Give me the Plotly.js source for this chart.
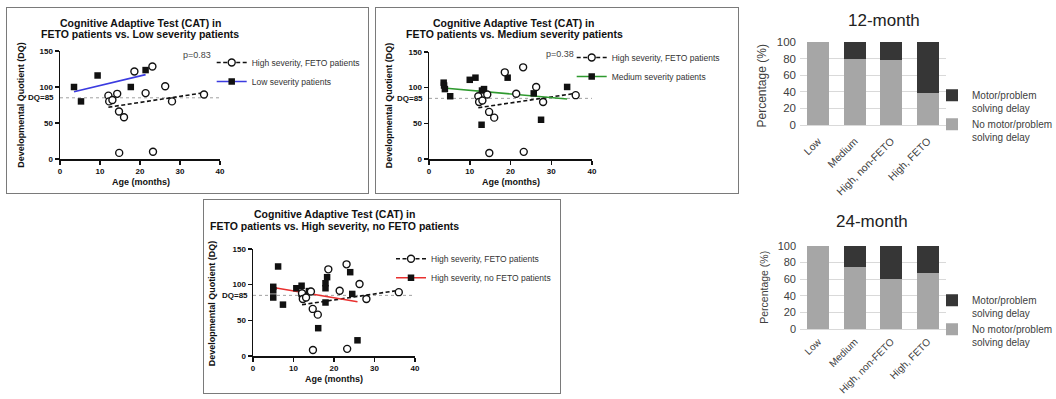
<!DOCTYPE html>
<html><head><meta charset="utf-8">
<script src="https://cdn.plot.ly/plotly-3.0.1.min.js"></script>
<style>
html,body{margin:0;padding:0;background:#fff;width:1056px;height:399px;overflow:hidden;}
body{position:relative;}
.chart{position:absolute;}
.frame{position:absolute;border:1px solid #7a7a7a;box-sizing:border-box;pointer-events:none;}
</style></head><body>
<div class="chart" id="p1"></div>
<div class="chart" id="p2"></div>
<div class="chart" id="p3"></div>
<div class="chart" id="b1"></div>
<div class="chart" id="b2"></div>
<script>
// ---------- data ----------
const fetoName = 'High severity, FETO patients';
const fetoAge = [12.1, 12.3, 13.1, 14.3, 14.75, 16.0, 14.8, 18.6, 21.4, 23.1, 23.25, 26.3, 28.0, 36.0];
const fetoDQ  = [88, 80, 82, 90.5, 66, 58, 8.5, 121.5, 91.5, 128.5, 10, 101, 80, 89.5];

const lowName = 'Low severity patients';
const lowAge = [3.5, 5.25, 9.4, 17.7, 21.4];
const lowDQ  = [100, 80, 116, 100, 123.5];

const mediumName = 'Medium severity patients';
const mediumAge = [3.6, 3.7, 3.9, 5.2, 10.0, 11.4, 12.9, 13.0, 13.5, 19.3, 25.7, 27.5, 33.9];
const mediumDQ  = [107, 103, 98, 88, 111, 114, 48, 96, 98, 114, 92, 55, 101];

const highNoFetoName = 'High severity, no FETO patients';
const highNoFetoAge = [5, 5, 5, 6.2, 7.4, 10.7, 12, 12, 12.3, 13.8, 16.1, 18.3, 17.9, 17.9, 17.9, 24, 24.5, 25.8];
const highNoFetoDQ  = [97, 92, 82, 125.5, 72, 95, 98.5, 87, 84, 91, 39, 110.5, 102, 95, 75, 117.5, 87, 22];

const pLow = 'p=0.83', pMedium = 'p=0.38', pHigh = 'p=0.28';
const dqThreshold = 85;
const ageTicks = [0, 10, 20, 30, 40];
const dqTicks = [0, 50, 100, 150];

const severity = ['Low', 'Medium', 'High, non-FETO', 'High, FETO'];
const noDelay12 = [100, 80, 78, 38];
const delay12   = [0, 20, 22, 62];
const noDelay24 = [100, 75, 60, 67];
const delay24   = [0, 25, 40, 33];
const delayName = 'Motor/problem<br>solving delay';
const noDelayName = 'No motor/problem<br>solving delay';
const pctTicks = [0, 20, 40, 60, 80, 100];

// ---------- helpers ----------
const FONT = '"Liberation Sans", Arial, sans-serif';
function fit(xs, ys) {
  const n = xs.length;
  let mx = 0, my = 0;
  for (let i = 0; i < n; i++) { mx += xs[i]; my += ys[i]; }
  mx /= n; my /= n;
  let sxy = 0, sxx = 0;
  for (let i = 0; i < n; i++) { sxy += (xs[i]-mx)*(ys[i]-my); sxx += (xs[i]-mx)*(xs[i]-mx); }
  const b = sxy / sxx, a = my - b * mx;
  const x0 = Math.min(...xs), x1 = Math.max(...xs);
  return {x: [x0, x1], y: [a + b*x0, a + b*x1]};
}
const EXTRA = 90; // spare room on the right so legends never push the margins
function place(id, box) {
  const el = document.getElementById(id);
  el.style.left = box.left + 'px'; el.style.top = box.top + 'px';
  el.style.width = (box.w + EXTRA) + 'px'; el.style.height = box.h + 'px';
  return el;
}
function frame(box) {
  const f = document.createElement('div');
  f.className = 'frame';
  f.style.left = box.left + 'px'; f.style.top = box.top + 'px';
  f.style.width = box.w + 'px'; f.style.height = box.h + 'px';
  document.body.appendChild(f);
}
const ann = (o) => Object.assign({showarrow: false, xref: 'paper', yref: 'paper', xanchor: 'center', yanchor: 'middle'}, o);

function scatterPanel(c) {
  const el = place(c.id, c.box);
  const m = c.m;
  const W = c.box.w + EXTRA;
  const px = x => (x - m.l) / m.pw;
  const py = y => 1 - (y - m.t) / m.ph;
  const fetoFit = fit(fetoAge, fetoDQ);
  const compFit = fit(c.compX, c.compY);
  const dash = {color: '#111', width: 1.6, dash: '4px,2.5px'};
  const circ = {symbol: 'circle', size: 7, color: '#fff', line: {color: '#111', width: 1.4}};
  const sq = {symbol: 'square', size: 6.5, color: '#111'};
  const traces = [
    {x: fetoFit.x, y: fetoFit.y, mode: 'lines', line: dash, showlegend: false},
    {x: compFit.x, y: compFit.y, mode: 'lines', line: {color: c.color, width: 1.6}, showlegend: false},
    {x: c.compX, y: c.compY, mode: 'markers', marker: sq, showlegend: false, cliponaxis: false},
    {x: fetoAge, y: fetoDQ, mode: 'markers', marker: circ, showlegend: false, cliponaxis: false},
    {x: [null], y: [null], mode: 'lines+markers', name: fetoName, line: dash, marker: circ},
    {x: [null], y: [null], mode: 'lines+markers', name: c.compName, line: {color: c.color, width: 1.6}, marker: sq}
  ];
  const bold = (s) => ({family: FONT, size: s, color: '#111', weight: 700});
  const ax = {
    showline: true, linecolor: '#111', linewidth: 1.5, ticks: 'outside', ticklen: 4, tickwidth: 1.5,
    tickcolor: '#111', tickfont: bold(8), showgrid: false, zeroline: false, fixedrange: true
  };
  const layout = {
    width: W, height: c.box.h,
    margin: {l: m.l, r: W - m.l - m.pw, t: m.t, b: c.box.h - m.t - m.ph, pad: 0},
    paper_bgcolor: 'rgba(0,0,0,0)', plot_bgcolor: 'rgba(0,0,0,0)',
    showlegend: true,
    legend: {x: px(c.legText - 40), y: py(c.legRow - 14), xanchor: 'left', yanchor: 'top',
             bgcolor: 'rgba(0,0,0,0)', font: {family: FONT, size: 8.5, color: '#333'}, itemwidth: 30},
    xaxis: Object.assign({}, ax, {range: [0, 40], tickvals: ageTicks}),
    yaxis: Object.assign({}, ax, {range: [0, 150], tickvals: dqTicks}),
    shapes: [{type: 'line', xref: 'x', yref: 'y', x0: 0, x1: 40, y0: dqThreshold, y1: dqThreshold,
              line: {color: '#a0a0a0', width: 1, dash: 'dot'}, layer: 'below'}],
    annotations: [
      ann({text: 'Cognitive Adaptive Test (CAT) in', x: px(c.t1[0]), y: py(c.t1[1]), font: bold(10.5)}),
      ann({text: c.title2, x: px(c.t2[0]), y: py(c.t2[1]), font: bold(10.5)}),
      ann({text: c.pText, xref: 'x', yref: 'y', x: c.p[0], y: c.p[1], font: {family: FONT, size: 9, color: '#444'}}),
      ann({text: 'DQ=' + dqThreshold, x: px(c.dqRight), xanchor: 'right', yref: 'y', y: dqThreshold, font: bold(8)}),
      ann({text: 'Developmental Quotient (DQ)', x: px(c.yt[0]), y: py(c.yt[1]), textangle: -90, font: bold(9)}),
      ann({text: 'Age (months)', x: px(c.xt[0]), y: py(c.xt[1]), font: bold(9)})
    ]
  };
  Plotly.newPlot(el, traces, layout, {staticPlot: true, displayModeBar: false});
  frame(c.box);
}

function barPanel(c) {
  const el = place(c.id, c.box);
  const m = c.m;
  const W = c.box.w + EXTRA;
  const px = x => (x - m.l) / m.pw;
  const py = y => 1 - (y - m.t) / m.ph;
  const f = (s) => ({family: FONT, size: s, color: '#404040'});
  const traces = [
    {type: 'bar', x: severity, y: c.noDelay, name: noDelayName, marker: {color: '#a6a6a6'}},
    {type: 'bar', x: severity, y: c.delay, name: delayName, marker: {color: '#363636'}}
  ];
  const layout = {
    width: W, height: c.box.h,
    margin: {l: m.l, r: W - m.l - m.pw, t: m.t, b: c.box.h - m.t - m.ph, pad: 0},
    paper_bgcolor: 'rgba(0,0,0,0)', plot_bgcolor: 'rgba(0,0,0,0)',
    barmode: 'stack', bargap: 0.4,
    showlegend: true,
    legend: {x: px(c.legLeft), y: py(c.legRow - 12), xanchor: 'left', yanchor: 'top', traceorder: 'reversed',
             valign: 'top', bgcolor: 'rgba(0,0,0,0)', font: f(10), tracegroupgap: 0},
    xaxis: {tickangle: -45, tickfont: f(c.catSize), showline: true, linecolor: '#d9d9d9', linewidth: 1,
            ticks: '', ticklabelstandoff: c.catGap, fixedrange: true},
    yaxis: {range: [0, 100], tickvals: pctTicks, gridcolor: '#d9d9d9', gridwidth: 1, zeroline: false,
            tickfont: f(c.tickSize), ticks: '', ticklabelstandoff: 3, fixedrange: true},
    annotations: [
      ann({text: c.title, x: px(c.tt[0]), y: py(c.tt[1]), font: {family: FONT, size: 17, color: '#222'}}),
      ann({text: 'Percentage (%)', x: px(c.yt[0]), y: py(c.yt[1]), textangle: -90, font: f(c.ytSize)})
    ]
  };
  Plotly.newPlot(el, traces, layout, {staticPlot: true, displayModeBar: false});
}

scatterPanel({
  id: 'p1', box: {left: 6, top: 7, w: 363, h: 187}, m: {l: 54, t: 44, pw: 160, ph: 108},
  compName: lowName, compX: lowAge, compY: lowDQ, color: '#3b3be0',
  title2: 'FETO patients vs. Low severity patients', t1: [134, 15.5], t2: [134, 27],
  pText: pLow, p: [34.2, 145], dqRight: 49.7, yt: [14.7, 98], xt: [134.5, 174.7],
  legText: 245.7, legRow: 55
});
scatterPanel({
  id: 'p2', box: {left: 375, top: 7, w: 364, h: 187}, m: {l: 54, t: 45, pw: 163, ph: 107},
  compName: mediumName, compX: mediumAge, compY: mediumDQ, color: '#2f9a2f',
  title2: 'FETO patients vs. Medium severity patients', t1: [138, 15.5], t2: [139.5, 27.2],
  pText: pMedium, p: [32.1, 147.6], dqRight: 49.7, yt: [14.3, 98], xt: [136, 174.7],
  legText: 236.7, legRow: 50
});
scatterPanel({
  id: 'p3', box: {left: 203, top: 199, w: 358, h: 195}, m: {l: 50, t: 50, pw: 162, ph: 107},
  compName: highNoFetoName, compX: highNoFetoAge, compY: highNoFetoDQ, color: '#e8302f',
  title2: 'FETO patients vs. High severity, no FETO patients', t1: [131.5, 15.2], t2: [131, 26.8],
  pText: pHigh, p: [30.3, 152], dqRight: 46.7, yt: [9, 104.3], xt: [130.7, 180],
  legText: 228, legRow: 59.3
});
barPanel({
  id: 'b1', box: {left: 745, top: 0, w: 311, h: 200}, m: {l: 55, t: 42, pw: 146, ph: 83},
  noDelay: noDelay12, delay: delay12, title: '12-month', tt: [139, 20], yt: [16.7, 85.8], ytSize: 12,
  tickSize: 11.5, catSize: 10.5, catGap: 5, legLeft: 187, legRow: 94.3
});
barPanel({
  id: 'b2', box: {left: 745, top: 200, w: 311, h: 199}, m: {l: 55, t: 46, pw: 146, ph: 83},
  noDelay: noDelay24, delay: delay24, title: '24-month', tt: [127, 21.7], yt: [18.3, 87.5], ytSize: 10.5,
  tickSize: 11, catSize: 10, catGap: 2, legLeft: 187, legRow: 99.3
});
</script>
</body></html>
